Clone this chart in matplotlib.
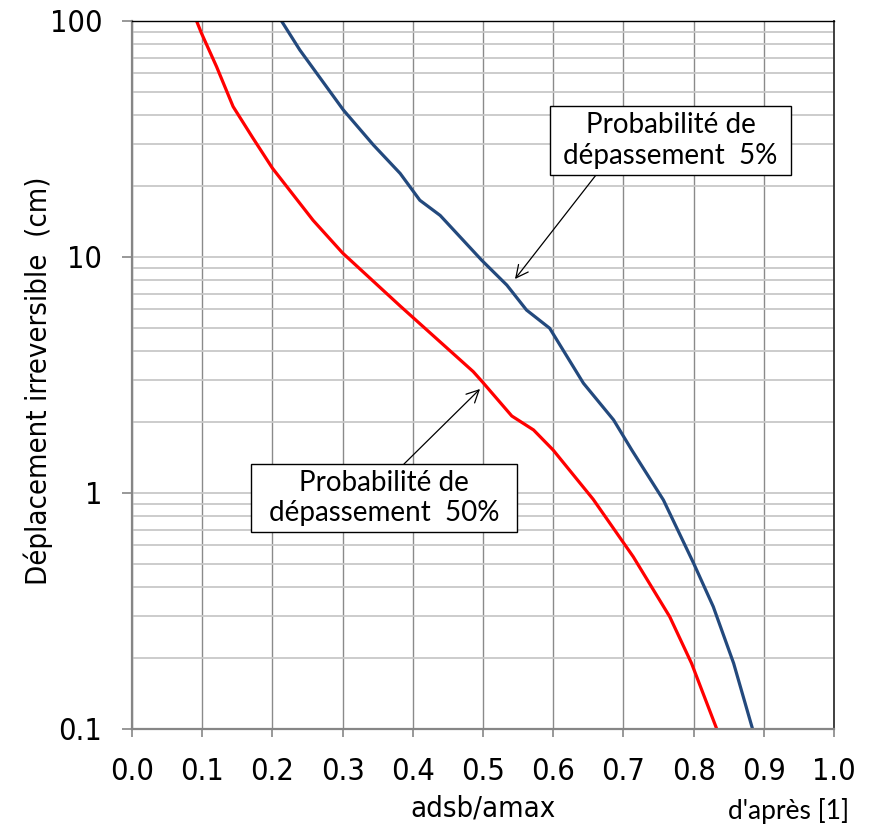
import matplotlib
matplotlib.use("Agg")
import matplotlib.pyplot as plt
from matplotlib.patches import Rectangle
from matplotlib.ticker import FixedLocator, NullFormatter
import numpy as np

# courbe probabilite de depassement 50% (rouge)
x_50 = [0.092, 0.099, 0.1205, 0.144, 0.172, 0.200, 0.258, 0.300, 0.382, 0.486, 0.499,
        0.541, 0.572, 0.600, 0.657, 0.714, 0.766, 0.797, 0.833]
y_50 = [100, 88.7, 64, 43.4, 32, 23.8, 14.3, 10.4, 6.2, 3.27, 2.96,
        2.12, 1.85, 1.52, 0.94, 0.537, 0.299, 0.19, 0.1]

# courbe probabilite de depassement 5% (bleu)
x_5 = [0.213, 0.239, 0.301, 0.344, 0.382, 0.410, 0.439, 0.498, 0.534, 0.562,
       0.595, 0.643, 0.686, 0.712, 0.757, 0.800, 0.828, 0.857, 0.884]
y_5 = [100, 75.4, 42, 29.8, 22.6, 17.4, 15.0, 9.7, 7.6, 5.96,
       4.99, 2.92, 2.04, 1.52, 0.934, 0.504, 0.33, 0.19, 0.1]

x_ticks = [0.0, 0.1, 0.2, 0.3, 0.4, 0.5, 0.6, 0.7, 0.8, 0.9, 1.0]
y_ticks = [0.1, 1, 10, 100]
y_tick_labels = ["0.1", "1", "10", "100"]

W, H = 873, 826
fig = plt.figure(figsize=(W / 100, H / 100), dpi=100)

# position des axes en pixels
L, R, T, B = 132, 834, 21, 729
ax = fig.add_axes([L / W, 1 - B / H, (R - L) / W, (B - T) / H])

tick_font = dict(family="DejaVu Sans", stretch="condensed", size=22)
label_font = dict(family="DejaVu Sans", stretch="condensed", size=21)
box_font = dict(family="Lato", size=20)

ax.set_yscale("log")
ax.set_xlim(0, 1)
ax.set_ylim(0.1, 100)

# grille
minors = [m * 10.0 ** e for e in range(-1, 2) for m in range(2, 10)]
ax.yaxis.set_minor_locator(FixedLocator(minors))
ax.yaxis.set_minor_formatter(NullFormatter())
ax.yaxis.set_major_locator(FixedLocator(y_ticks))
ax.set_yticklabels(y_tick_labels, fontdict=tick_font)
ax.set_xticks(x_ticks)
ax.set_xticklabels(["%.1f" % v for v in x_ticks], fontdict=tick_font)

ax.grid(True, which="both", axis="y", color="#c8c8c8", lw=1.3)
ax.grid(True, which="major", axis="x", color="#8a8a8a", lw=1.0)
ax.set_axisbelow(True)

ax.tick_params(axis="y", which="major", direction="out", length=7.5, width=1.2,
               color="#868686", pad=14)
ax.tick_params(axis="y", which="minor", length=0)
ax.tick_params(axis="x", direction="out", length=6, width=1.2, color="#868686", pad=14)

for s in ["left", "bottom"]:
    ax.spines[s].set_color("#868686")
    ax.spines[s].set_linewidth(1.6)
ax.spines["top"].set_color("black")
ax.spines["top"].set_linewidth(1.0)
ax.spines["right"].set_color("#404040")
ax.spines["right"].set_linewidth(1.4)

# courbes
ax.plot(x_50, y_50, color="#ff0000", lw=2.3, solid_joinstyle="round")
ax.plot(x_5, y_5, color="#23497d", lw=2.3, solid_joinstyle="round")

# labels
ax.set_xlabel("adsb/amax", fontdict=label_font, labelpad=6)
fig.text(38 / W, 1 - 381 / H, "Déplacement irreversible  (cm)", rotation=90,
         ha="center", va="center", **label_font)


def px_to_axes(px, py):
    return (px - L) / (R - L), (B - py) / (B - T)


def boxed(x0, y0, x1, y1, txt):
    ax0, ay0 = px_to_axes(x0, y1)
    ax1, ay1 = px_to_axes(x1, y0)
    ax.add_patch(Rectangle((ax0, ay0), ax1 - ax0, ay1 - ay0, transform=ax.transAxes,
                           facecolor="white", edgecolor="black", lw=1.0, zorder=5))
    ax.text((ax0 + ax1) / 2, (ay0 + ay1) / 2, txt, transform=ax.transAxes,
            ha="center", va="center", linespacing=1.2, zorder=6, **box_font)


boxed(550, 106, 791, 175, "Probabilité de\ndépassement  5%")
boxed(251, 464, 517, 532, "Probabilité de\ndépassement  50%")

arrow = dict(arrowstyle="->", color="black", lw=0.9, mutation_scale=22, shrinkA=0, shrinkB=0)
ax.annotate("", xy=px_to_axes(515, 279), xycoords="axes fraction",
            xytext=px_to_axes(596, 175), textcoords="axes fraction", arrowprops=arrow)
ax.annotate("", xy=px_to_axes(480, 389), xycoords="axes fraction",
            xytext=px_to_axes(404, 464), textcoords="axes fraction", arrowprops=arrow)

# source
fig.text(728 / W, 1 - 824 / H, "d'après [1]", ha="left", va="bottom",
         family="Lato", size=19)

fig.savefig("out.png", dpi=100)
